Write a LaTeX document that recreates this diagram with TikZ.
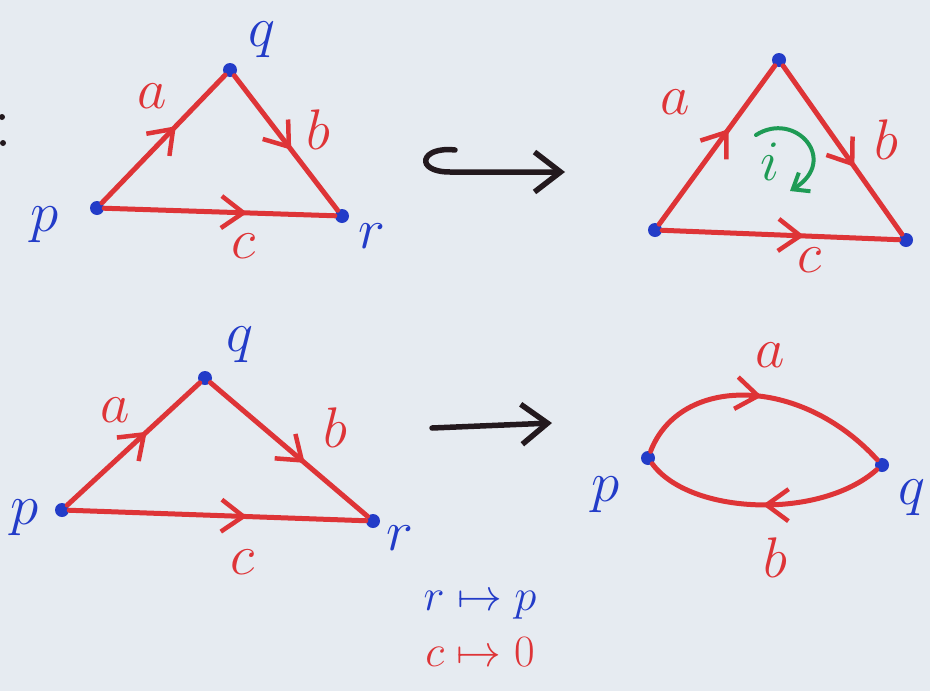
\documentclass[tikz,border=0pt]{standalone}
\usetikzlibrary{arrows.meta,decorations.markings}

\definecolor{paper}{RGB}{230,235,241}
\definecolor{penblue}{RGB}{35,60,200}
\definecolor{penred}{RGB}{222,52,55}
\definecolor{pengreen}{RGB}{30,155,85}
\definecolor{penblack}{RGB}{35,25,30}

\tikzset{
  dot/.style={circle, fill=penblue, inner sep=0pt, minimum size=14pt},
  vlabel/.style={text=penblue, font=\Huge, scale=2.3, inner sep=1pt},
  elabel/.style={text=penred, font=\Huge, scale=2.3, inner sep=1pt},
  edge/.style={draw=penred, line width=5pt, line cap=round,
    decoration={markings, mark=at position #1 with
      {\arrow{Straight Barb[length=22pt, width=32pt, line width=4.5pt, color=penred]}}},
    postaction={decorate}},
  edge/.default=0.6,
  bigarrow/.style={draw=penblack, line width=5.5pt, line cap=round,
    -{Straight Barb[length=26pt, width=40pt, line width=5.5pt]}},
}

\begin{document}
\begin{tikzpicture}[x=1pt, y=-1pt]
  \fill[paper] (0,0) rectangle (930,691);
  \useasboundingbox (0,0) rectangle (930,691);

  % colon at the left edge
  \fill[penblack] (2,117) circle (3pt);
  \fill[penblack] (3,143) circle (3pt);

  % top left triangle
  \node[dot] (p1) at (97,208) {};
  \node[dot] (q1) at (230,70) {};
  \node[dot] (r1) at (342,216) {};
  \draw[edge] (p1) -- (q1);
  \draw[edge=0.55] (q1) -- (r1);
  \draw[edge=0.62] (p1) -- (r1);
  \node[vlabel] (lp1) at (45,225) {$p$};
  \node[vlabel] (lq1) at (262,40) {$q$};
  \node[vlabel] (lr1) at (372,236) {$r$};
  \node[elabel] (la1) at (152,96) {$a$};
  \node[elabel] (lb1) at (318,130) {$b$};
  \node[elabel] (lc1) at (244,246) {$c$};

  % inclusion arrow
  \coordinate (h1) at (455,150);
  \coordinate (h2) at (565,172);
  \draw[bigarrow] (h1) .. controls (420,146) and (414,172) .. (450,172) -- (h2);

  % top right triangle with a face
  \node[dot] (p2) at (655,230) {};
  \node[dot] (q2) at (779,60) {};
  \node[dot] (r2) at (906,240) {};
  \draw[edge] (p2) -- (q2);
  \draw[edge=0.6] (q2) -- (r2);
  \draw[edge=0.6] (p2) -- (r2);
  \node[elabel] (la2) at (675,102) {$a$};
  \node[elabel] (lb2) at (886,140) {$b$};
  \node[elabel] (lc2) at (810,260) {$c$};
  \node[text=pengreen, font=\Huge, scale=2.3] (li2) at (770,162) {$i$};
  \coordinate (g1) at (756,135);
  \coordinate (g2) at (790,191);
  \draw[draw=pengreen, line width=4pt, line cap=round,
    -{Straight Barb[length=14pt, width=22pt, line width=4pt]}]
    (g1) .. controls (795,110) and (840,160) .. (g2);

  % bottom left triangle
  \node[dot] (p3) at (62,510) {};
  \node[dot] (q3) at (205,378) {};
  \node[dot] (r3) at (373,521) {};
  \draw[edge] (p3) -- (q3);
  \draw[edge=0.6] (q3) -- (r3);
  \draw[edge=0.6] (p3) -- (r3);
  \node[vlabel] (lp3) at (25,518) {$p$};
  \node[vlabel] (lq3) at (240,345) {$q$};
  \node[vlabel] (lr3) at (400,538) {$r$};
  \node[elabel] (la3) at (115,410) {$a$};
  \node[elabel] (lb3) at (335,428) {$b$};
  \node[elabel] (lc3) at (243,562) {$c$};

  % quotient arrow
  \coordinate (m1) at (432,428);
  \coordinate (m2) at (552,423);
  \draw[bigarrow] (m1) -- (m2);

  % bottom right loop
  \node[dot] (p4) at (648,458) {};
  \node[dot] (q4) at (882,465) {};
  \draw[edge=0.5] (p4) .. controls (680,375) and (800,375) .. (q4);
  \draw[edge=0.5] (q4) .. controls (820,520) and (690,515) .. (p4);
  \node[vlabel] (lp4) at (606,495) {$p$};
  \node[vlabel] (lq4) at (912,498) {$q$};
  \node[elabel] (la4) at (770,355) {$a$};
  \node[elabel] (lb4) at (775,558) {$b$};

  % the identifications
  \node[text=penblue, font=\Huge, scale=1.8] (rp) at (480,605) {$r \mapsto p$};
  \node[text=penred, font=\Huge, scale=1.8] (c0) at (480,652) {$c \mapsto 0$};
\end{tikzpicture}
\end{document}
